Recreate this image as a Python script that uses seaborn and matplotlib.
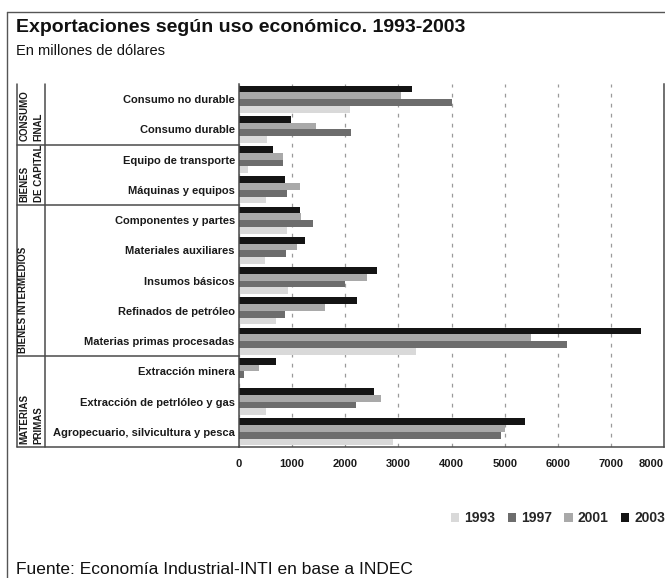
import matplotlib
matplotlib.use("Agg")
import matplotlib.pyplot as plt
from matplotlib.lines import Line2D
from matplotlib.patches import Patch
from matplotlib.transforms import blended_transform_factory
import seaborn as sns
import pandas as pd

# ---- data (millones de dólares) ----
categorias = [
    "Consumo no durable",
    "Consumo durable",
    "Equipo de transporte",
    "Máquinas y equipos",
    "Componentes y partes",
    "Materiales auxiliares",
    "Insumos básicos",
    "Refinados de petróleo",
    "Materias primas procesadas",
    "Extracción minera",
    "Extracción de petrlóleo y gas",
    "Agropecuario, silvicultura y pesca",
]
v1993 = [2080, 535, 175, 500, 910, 480, 930, 705, 3340, 0, 515, 2890]
v1997 = [4000, 2100, 835, 900, 1400, 890, 1990, 875, 6165, 100, 2210, 4925]
v2001 = [3040, 1440, 835, 1140, 1175, 1100, 2400, 1625, 5490, 385, 2680, 5000]
v2003 = [3265, 975, 635, 875, 1155, 1250, 2605, 2230, 7560, 705, 2550, 5375]

anios = ["1993", "1997", "2001", "2003"]
grupos = [
    (["CONSUMO", "FINAL"], 0, 1),
    (["BIENES", "DE CAPITAL"], 2, 3),
    (["BIENES INTERMEDIOS"], 4, 8),
    (["MATERIAS", "PRIMAS"], 9, 11),
]
titulo = "Exportaciones según uso económico. 1993-2003"
subtitulo = "En millones de dólares"
fuente = "Fuente: Economía Industrial-INTI en base a INDEC"

colores = {"1993": "#d9d9d9", "1997": "#6d6d6d", "2001": "#a9a9a9", "2003": "#141414"}

df = pd.DataFrame({
    "categoria": categorias * 4,
    "anio": sum([[a] * len(categorias) for a in anios], []),
    "valor": v1993 + v1997 + v2001 + v2003,
})

sns.set_theme(style="white")
plt.rcParams["font.family"] = ["Liberation Sans", "DejaVu Sans"]

W, H = 665, 578
fig = plt.figure(figsize=(W / 100, H / 100), dpi=100)

def fx(px):
    return px / W

def fy(py):
    return 1 - py / H

ax_l, ax_r, ax_t, ax_b = 239, 664, 84, 447
ax = fig.add_axes([fx(ax_l), fy(ax_b), fx(ax_r - ax_l), (ax_b - ax_t) / H])

sns.barplot(
    data=df, x="valor", y="categoria", hue="anio",
    order=categorias, hue_order=["2003", "2001", "1997", "1993"],
    palette=colores, width=0.9, saturation=1, orient="h",
    linewidth=0, legend=False, ax=ax,
)

ax.set_xlim(0, 8000)
ax.set_xticks(range(0, 8001, 1000))
ax.set_xlabel("")
ax.set_ylabel("")
ax.set_axisbelow(True)
ax.grid(axis="x", color="#9a9a9a", linestyle=(0, (3, 5)), linewidth=0.9)
ax.grid(axis="y", visible=False)

for side in ["left", "bottom", "right"]:
    ax.spines[side].set_visible(True)
    ax.spines[side].set_color("#4a4a4a")
    ax.spines[side].set_linewidth(1.1)
ax.spines["top"].set_visible(False)

ax.tick_params(axis="x", direction="inout", length=7, width=1, color="#4a4a4a",
               pad=5, labelsize=8, labelcolor="#1a1a1a")
ax.tick_params(axis="y", length=0, pad=3, labelsize=8, labelcolor="#1a1a1a")
for t in ax.get_xticklabels() + ax.get_yticklabels():
    t.set_fontweight("bold")
# keep the last tick label inside the figure
ax.get_xticklabels()[-1].set_horizontalalignment("right")

# ---- table of groups on the left ----
line_kw = dict(color="#4a4a4a", linewidth=1.1)
tab = blended_transform_factory(fig.transFigure, ax.transData)
x_tab0, x_tab1 = 17, 44.5
y_top, y_bot = -0.5, len(categorias) - 0.5
for xp in (x_tab0, x_tab1):
    fig.add_artist(Line2D([fx(xp), fx(xp)], [y_top, y_bot], transform=tab, **line_kw))
for _, i0, i1 in grupos:
    yb = i1 + 0.5
    fig.add_artist(Line2D([fx(x_tab0), fx(ax_l)], [yb, yb], transform=tab, **line_kw))

for lineas, i0, i1 in grupos:
    y_anchor = i1 + 0.5 - 0.1
    xs = [24.5, 38.5] if len(lineas) == 2 else [23]
    for texto, xp in zip(lineas, xs):
        fig.text(fx(xp), y_anchor, texto, transform=tab, rotation=90,
                 rotation_mode="anchor", ha="left", va="center",
                 fontsize=7, fontweight="bold", color="#1a1a1a")

# ---- outer frame ----
frame_kw = dict(color="#555555", linewidth=1.0)
fig.add_artist(Line2D([fx(7), fx(7)], [fy(12), fy(578)], transform=fig.transFigure, **frame_kw))
fig.add_artist(Line2D([fx(7), fx(665)], [fy(12), fy(12)], transform=fig.transFigure, **frame_kw))

# ---- titles and source ----
fig.text(fx(16), fy(32), titulo, fontsize=14, fontweight="bold", color="#111111",
         ha="left", va="baseline")
fig.text(fx(16), fy(55), subtitulo, fontsize=10.5, color="#111111",
         ha="left", va="baseline")
fig.text(fx(16), fy(574), fuente, fontsize=12.5, color="#111111",
         ha="left", va="baseline")

# ---- legend ----
handles = [Patch(facecolor=colores[a], edgecolor="none", label=a) for a in anios]
leg = fig.legend(handles=handles, loc="center right", bbox_to_anchor=(fx(665), fy(518)),
                 ncol=4, frameon=False, handlelength=0.6, handleheight=0.6,
                 handletextpad=0.35, columnspacing=0.9, borderpad=0, borderaxespad=0,
                 prop={"size": 10, "weight": "bold"})

fig.savefig("out.png", dpi=100)
